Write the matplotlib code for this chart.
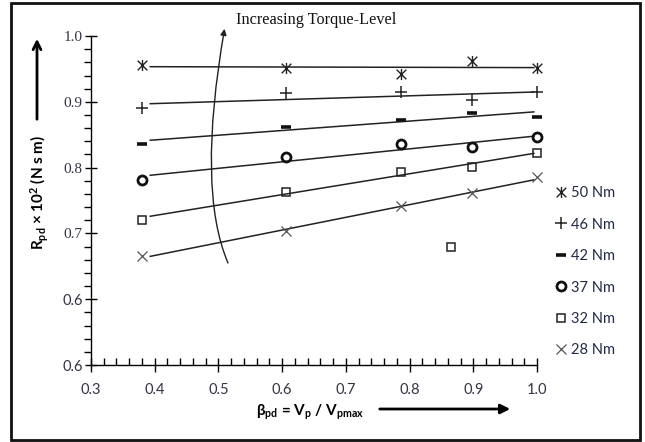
import numpy as np
import matplotlib
matplotlib.use('Agg')
import matplotlib.pyplot as plt
from matplotlib.path import Path
from matplotlib.patches import FancyArrowPatch, Rectangle
from matplotlib.lines import Line2D

plt.rcParams['mathtext.default'] = 'regular'

# speed ratio values shared by all torque levels
beta = [0.38, 0.606, 0.786, 0.898, 1.0]

torques = ['50 Nm', '46 Nm', '42 Nm', '37 Nm', '32 Nm', '28 Nm']
r50 = [0.956, 0.952, 0.942, 0.962, 0.951]
r46 = [0.890, 0.913, 0.915, 0.903, 0.915]
r42 = [0.836, 0.861, 0.873, 0.883, 0.877]
r37 = [0.781, 0.816, 0.836, 0.831, 0.846]
r32 = [0.721, 0.763, 0.794, 0.801, 0.822]
r28 = [0.665, 0.703, 0.741, 0.761, 0.785]
stray32 = ([0.865], [0.680])

yticks = [0.5, 0.6, 0.7, 0.8, 0.9, 1.0]
ytick_labels = ['0.6', '0.6', '0.7', '0.8', '0.9', '1.0']
xticks = [0.3, 0.4, 0.5, 0.6, 0.7, 0.8, 0.9, 1.0]

# asterisk marker: an x with a vertical stroke
star = Path([(-1, -1), (1, 1), (-1, 1), (1, -1), (0, -1.15), (0, 1.15)],
            [Path.MOVETO, Path.LINETO, Path.MOVETO, Path.LINETO, Path.MOVETO, Path.LINETO])

styles = [
    dict(marker=star, ms=8, mew=1.0, color='#222222'),
    dict(marker='+', ms=8, mew=1.1, color='#222222'),
    dict(marker='_', ms=6.5, mew=2.6, color='#111111'),
    dict(marker='o', ms=6.5, mew=2.0, color='#111111', mfc='none'),
    dict(marker='s', ms=5.5, mew=1.1, color='#222222', mfc='none'),
    dict(marker='x', ms=7, mew=0.9, color='#555555'),
]

fig = plt.figure(figsize=(6.45, 4.42), dpi=100)
ax = fig.add_axes([0.1411, 0.1742, 0.6915, 0.7443])

xfit = np.array([0.393, 0.995])
handles = []
for ys, st, lab in zip([r50, r46, r42, r37, r32, r28], styles, torques):
    k, b = np.polyfit(beta, ys, 1)
    ax.plot(xfit, k * xfit + b, color='#222222', lw=1.1)
    ax.plot(beta, ys, linestyle='none', clip_on=False, **st)
    handles.append(Line2D([], [], linestyle='none', label=lab, **st))
ax.plot(stray32[0], stray32[1], linestyle='none', **styles[4])

ax.set_xlim(0.3, 1.0)
ax.set_ylim(0.5, 1.0)
for s in ['top', 'right']:
    ax.spines[s].set_visible(False)
for s in ['left', 'bottom']:
    ax.spines[s].set_linewidth(1.0)

ax.set_yticks(yticks)
ax.set_yticklabels(ytick_labels)
ax.set_xticks(xticks)
ax.set_xticklabels(['%.1f' % v for v in xticks])
ax.yaxis.set_minor_locator(plt.MultipleLocator(0.02))
ax.xaxis.set_minor_locator(plt.MultipleLocator(0.02))
ax.tick_params(axis='y', which='major', direction='inout', length=8, width=1, pad=2)
ax.tick_params(axis='y', which='minor', direction='out', length=5, width=1)
ax.tick_params(axis='x', which='major', direction='inout', length=10, width=1, pad=8)
ax.tick_params(axis='x', which='minor', direction='in', length=5, width=1)

for t in ax.get_yticklabels():
    t.set_color('#333344')
    if t.get_text() == '0.6':
        t.set_fontfamily('Lato')
        t.set_fontsize(10.5)
    else:
        t.set_fontfamily('Liberation Serif')
        t.set_fontsize(11)
for t in ax.get_xticklabels():
    t.set_color('#333344')
    t.set_fontfamily('Lato')
    t.set_fontsize(10.5)

# curved arrow across the trend lines
curve = Path([(0.515, 0.655), (0.4657, 0.767), (0.5096, 1.011)],
             [Path.MOVETO, Path.CURVE3, Path.CURVE3])
ax.add_patch(FancyArrowPatch(path=curve, arrowstyle='-|>', mutation_scale=9,
                             lw=1.0, color='#222222', clip_on=False,
                             transform=ax.transData))
fig.text(236 / 645, 1 - 20 / 442, 'Increasing Torque-Level', family='Liberation Serif',
         fontsize=11.7, va='center', ha='left', color='#111111')

# axis titles with arrows
fig.text(40 / 645, 1 - 192 / 442, r'R$_{pd}$ × 10$^{2}$ (N s m)', rotation=90,
         family='Lato', fontweight='bold', fontsize=11, ha='center', va='center')
fig.text(310 / 645, 1 - 412 / 442, r'β$_{pd}$ = V$_{p}$ / V$_{pmax}$',
         family='Lato', fontweight='bold', fontsize=11, ha='center', va='center')
fig.add_artist(FancyArrowPatch((37 / 645, 1 - 122 / 442), (37 / 645, 1 - 36 / 442),
                               transform=fig.transFigure, arrowstyle='->',
                               mutation_scale=14, lw=2, color='black'))
fig.add_artist(FancyArrowPatch((377 / 645, 1 - 409 / 442), (513 / 645, 1 - 409 / 442),
                               transform=fig.transFigure, arrowstyle='-|>',
                               mutation_scale=14, lw=2, color='black'))

leg = fig.legend(handles=handles, loc='upper left', bbox_to_anchor=(555 / 645, 1 - 186 / 442),
                 frameon=False, handlelength=0.8, handletextpad=0.3, labelspacing=1.2,
                 prop={'family': 'Lato', 'size': 10.5}, borderpad=0, borderaxespad=0)
for t in leg.get_texts():
    t.set_color('#1f2a44')

fig.add_artist(Rectangle((11 / 645, 2 / 442), 629 / 645, 437 / 442, transform=fig.transFigure,
                         fill=False, lw=2, edgecolor='#111111'))

fig.savefig('out.png', dpi=100)
